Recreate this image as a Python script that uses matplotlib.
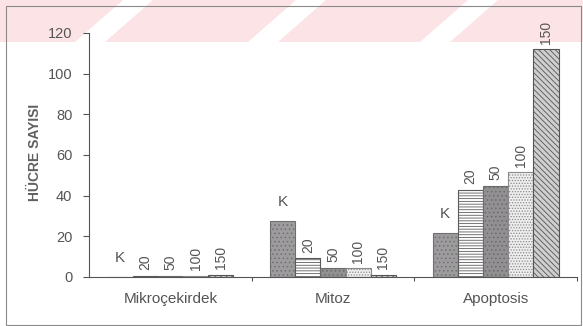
import matplotlib
matplotlib.use("Agg")
import matplotlib.pyplot as plt
from matplotlib.patches import Polygon, Rectangle
import numpy as np

plt.rcParams['font.family'] = ['Liberation Sans', 'DejaVu Sans']
plt.rcParams['hatch.linewidth'] = 0.6

categories = ["Mikroçekirdek", "Mitoz", "Apoptosis"]
doses = ["K", "20", "50", "100", "150"]
values = {
    "K":   [0.0, 27.4, 21.5],
    "20":  [0.5, 9.3, 43.0],
    "50":  [0.5, 4.4, 45.0],
    "100": [0.5, 4.2, 51.4],
    "150": [1.0, 1.0, 112.0],
}
yticks = [0, 20, 40, 60, 80, 100, 120]

styles = {
    "K":   dict(facecolor="#9d9b9d", hatch="....", edgecolor="#707070"),
    "20":  dict(facecolor="white", hatch="------", edgecolor="#5a5a5a"),
    "50":  dict(facecolor="#929092", hatch="....", edgecolor="#6a6a6a"),
    "100": dict(facecolor="#eeeeee", hatch="......", edgecolor="#8a8a8a"),
    "150": dict(facecolor="#cfcfcf", hatch="\\\\\\\\\\\\", edgecolor="#555555"),
}

W, H = 583, 326
fig = plt.figure(figsize=(W / 100, H / 100), dpi=100)

# watermark band
pink = "#fce3e6"
fig.patches.append(Rectangle((0, 1 - 42 / H), 1, 42 / H, transform=fig.transFigure,
                             facecolor=pink, edgecolor="none", zorder=-10))
for xb in [75, 248, 420, 595]:
    pts = [(xb, 42), (xb + 30, 42), (xb + 30 + 48, 0), (xb + 48, 0)]
    fig.patches.append(Polygon([(px / W, 1 - py / H) for px, py in pts], closed=True,
                               transform=fig.transFigure, facecolor="white",
                               edgecolor="none", zorder=-9))
# outer frame
fig.patches.append(Rectangle((6 / W, 1 / H), (W - 8) / W, (H - 7) / H, transform=fig.transFigure,
                             facecolor="none", edgecolor="#8a8a8a", linewidth=0.8, zorder=5))

ax = fig.add_axes([89 / W, 49 / H, (577 - 89) / W, (277 - 33) / H])
ax.patch.set_alpha(0)

x = np.arange(len(categories)) + 0.5
bw = 0.155
offsets = (np.arange(len(doses)) - 2) * bw
for d, off in zip(doses, offsets):
    vals = values[d]
    ax.bar(x + off, vals, width=bw, linewidth=0.8, zorder=2, **styles[d])
    for xi, v in zip(x + off, vals):
        if d == "K":
            ax.annotate(d, (xi, v), xytext=(0, 9), textcoords="offset points",
                        ha="center", va="bottom", fontsize=11, color="#555555")
        else:
            ax.annotate(d, (xi, v), xytext=(0, 4), textcoords="offset points",
                        ha="center", va="bottom", rotation=90, fontsize=10, color="#555555")

ax.set_xlim(0, 3)
ax.set_ylim(0, 120)
ax.set_yticks(yticks)
ax.set_xticks([1, 2, 3])
ax.set_xticklabels([])
ax.set_xticks(x, minor=True)
ax.set_xticklabels(categories, minor=True, fontsize=11, color="#555555")
ax.tick_params(axis="x", which="minor", length=0, pad=11)
ax.tick_params(axis="x", which="major", length=3, direction="out", color="#555555")
ax.tick_params(axis="y", length=4, direction="out", color="#555555", labelsize=10.5,
               labelcolor="#555555", pad=8)
for s in ["top", "right"]:
    ax.spines[s].set_visible(False)
for s in ["left", "bottom"]:
    ax.spines[s].set_color("#555555")
    ax.spines[s].set_linewidth(0.8)

fig.text(35 / W, 1 - 152 / H, "HÜCRE SAYISI", rotation=90, ha="center", va="center",
         fontsize=10, fontweight="bold", color="#606060")

fig.savefig("out.png", dpi=100)
